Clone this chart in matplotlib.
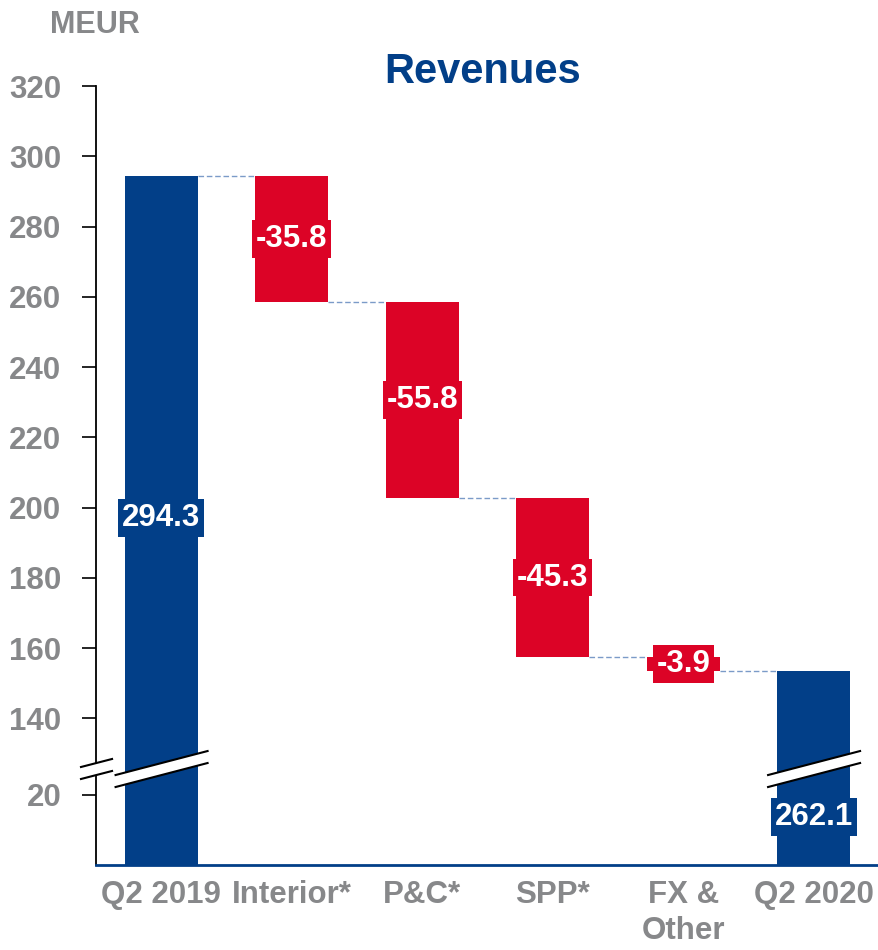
import numpy as np
import matplotlib.pyplot as plt
from matplotlib.transforms import blended_transform_factory

plt.rcParams['font.family'] = ['Liberation Sans', 'DejaVu Sans']
plt.rcParams['font.weight'] = 'bold'

# data
categories = ['Q2 2019', 'Interior*', 'P&C*', 'SPP*', 'FX &\nOther', 'Q2 2020']
start_value = 294.3
deltas = [-35.8, -55.8, -45.3, -3.9]
end_label = '262.1'
yticks = [20, 140, 160, 180, 200, 220, 240, 260, 280, 300, 320]

blue = '#023f88'
red = '#dc0326'
gray = '#87888a'
dash_col = '#7b9bc8'

# broken axis: squeeze the range between lo and hi
lo, hi = 28.5, 126.8


def fwd(v):
    return np.interp(v, [-1000, lo, hi, 1000], [-1000, lo, lo + 0.01, lo + 0.01 + 1000 - hi])


def inv(v):
    return np.interp(v, [-1000, lo, lo + 0.01, lo + 0.01 + 1000 - hi], [-1000, lo, hi, 1000])


fig = plt.figure(figsize=(8.79, 9.5), dpi=100)
ax = fig.add_axes([96 / 879, 85 / 950, 783 / 879, 779 / 950])
ax.set_yscale('function', functions=(fwd, inv))

w = 0.56
levels = [start_value]
for d in deltas:
    levels.append(levels[-1] + d)
end_value = levels[-1]

# total bars
ax.bar(0, start_value, width=w, color=blue, zorder=2)
ax.bar(5, end_value, width=w, color=blue, zorder=2)
# change bars
for i, d in enumerate(deltas):
    ax.bar(i + 1, -d, bottom=levels[i + 1], width=w, color=red, zorder=2)

# connectors
for i, lv in enumerate(levels):
    ax.plot([i + w / 2, i + 1 - w / 2], [lv, lv], color=dash_col, lw=1,
            linestyle=(0, (4, 2)), zorder=1)

# value labels
lab_kw = dict(ha='center', va='center', color='white', fontsize=22.5, fontweight='bold', zorder=4)
ax.text(0, 197, f'{start_value:.1f}',
        bbox=dict(boxstyle='square,pad=0.12', fc=blue, ec='none'), **lab_kw)
ax.text(5, 13.7, end_label,
        bbox=dict(boxstyle='square,pad=0.12', fc=blue, ec='none'), **lab_kw)
for i, d in enumerate(deltas):
    mid = (levels[i] + levels[i + 1]) / 2
    ax.text(i + 1, mid, f'{d:.1f}',
            bbox=dict(boxstyle='square,pad=0.12', fc=red, ec='none'), **lab_kw)

ax.set_xlim(-0.5, 5.5)
ax.set_ylim(0, 320)
ax.set_yticks(yticks)
ax.set_yticklabels([str(t) for t in yticks])
ax.set_xticks(range(len(categories)))
ax.set_xticklabels(categories, linespacing=1.25)

ax.tick_params(axis='y', labelsize=22.5, labelcolor=gray, length=10, width=1.2, pad=15, color='black')
ax.tick_params(axis='x', labelsize=22.5, labelcolor=gray, length=0, pad=11)
for lbl in ax.get_xticklabels() + ax.get_yticklabels():
    lbl.set_fontweight('bold')

for s in ['top', 'right']:
    ax.spines[s].set_visible(False)
ax.spines['left'].set_linewidth(1.3)
ax.spines['bottom'].set_color(blue)
ax.spines['bottom'].set_linewidth(2)

# break marks
tr = blended_transform_factory(ax.transData, ax.transAxes)


def brk(x0, x1, ya, yb, gap):
    ax.fill([x0, x1, x1, x0], [ya, yb, yb - gap, ya - gap], color='white',
            transform=tr, clip_on=False, zorder=5, lw=0)
    for off in [0, gap]:
        ax.plot([x0, x1], [ya - off, yb - off], color='black', lw=1.5,
                transform=tr, clip_on=False, zorder=6)


for c in [0, 5]:
    brk(c - 0.35, c + 0.355, 0.1155, 0.1463, 0.0154)
brk(-0.615, -0.377, 0.1258, 0.1361, 0.0154)

fig.text(483 / 879, 1 - 83 / 950, 'Revenues', ha='center', va='baseline',
         fontsize=30, fontweight='bold', color=blue)
fig.text(50 / 879, 1 - 33 / 950, 'MEUR', ha='left', va='baseline',
         fontsize=22, fontweight='bold', color=gray)

fig.savefig('out.png', dpi=100)
